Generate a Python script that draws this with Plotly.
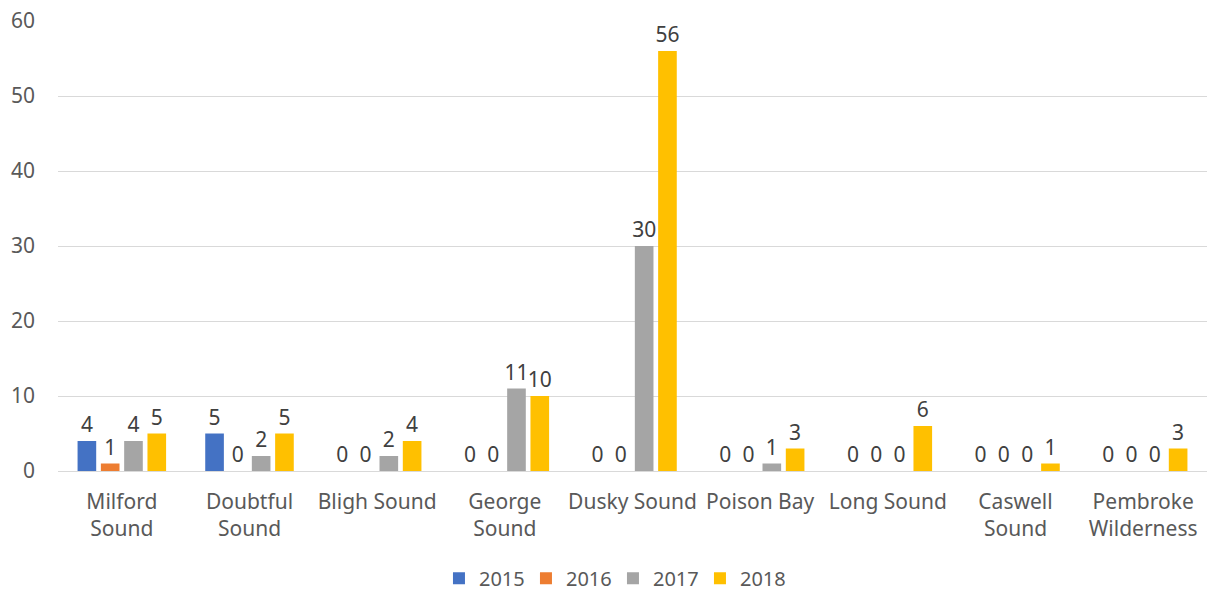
import plotly.graph_objects as go

categories = ["Milford<br>Sound", "Doubtful<br>Sound", "Bligh Sound", "George<br>Sound",
              "Dusky Sound", "Poison Bay", "Long Sound", "Caswell<br>Sound", "Pembroke<br>Wilderness"]
years = ["2015", "2016", "2017", "2018"]
v2015 = [4, 5, 0, 0, 0, 0, 0, 0, 0]
v2016 = [1, 0, 0, 0, 0, 0, 0, 0, 0]
v2017 = [4, 2, 2, 11, 30, 1, 0, 0, 0]
v2018 = [5, 5, 4, 10, 56, 3, 6, 1, 3]
colors = ["#4472C4", "#ED7D31", "#A5A5A5", "#FFC000"]

FONT = "Noto Sans"
FS = 21
fig = go.Figure()
for name, vals, c in zip(years, [v2015, v2016, v2017, v2018], colors):
    fig.add_trace(go.Bar(
        x=categories, y=vals, name=name, marker_color=c, marker_line_width=0,
        text=[str(v) for v in vals], textposition="outside", constraintext="none",
        textfont=dict(family=FONT, size=FS, color="#404040"),
        cliponaxis=False,
    ))

fig.update_layout(
    width=1207, height=595,
    margin=dict(l=58, r=0, t=21, b=124),
    paper_bgcolor="white", plot_bgcolor="white",
    barmode="group", bargap=0.27, bargroupgap=0.2,
    font=dict(family=FONT, size=FS, color="#595959"),
    legend=dict(orientation="h", x=0.483, xanchor="center",
                yref="container", y=0.028, yanchor="middle",
                font=dict(family=FONT, size=20, color="#595959"),
                itemwidth=30, entrywidth=42, traceorder="normal"),
)
fig.update_xaxes(showgrid=False, showline=False, ticks="", automargin=False,
                 ticklabelstandoff=16, tickfont=dict(size=FS, color="#595959"))
fig.update_yaxes(range=[0, 60], dtick=10, showgrid=True, gridcolor="#D9D9D9", gridwidth=1,
                 zeroline=True, zerolinecolor="#D9D9D9", zerolinewidth=1, automargin=False,
                 showline=False, ticks="", ticklabelstandoff=22,
                 tickfont=dict(size=FS, color="#595959"))

fig.write_html("out.html")
